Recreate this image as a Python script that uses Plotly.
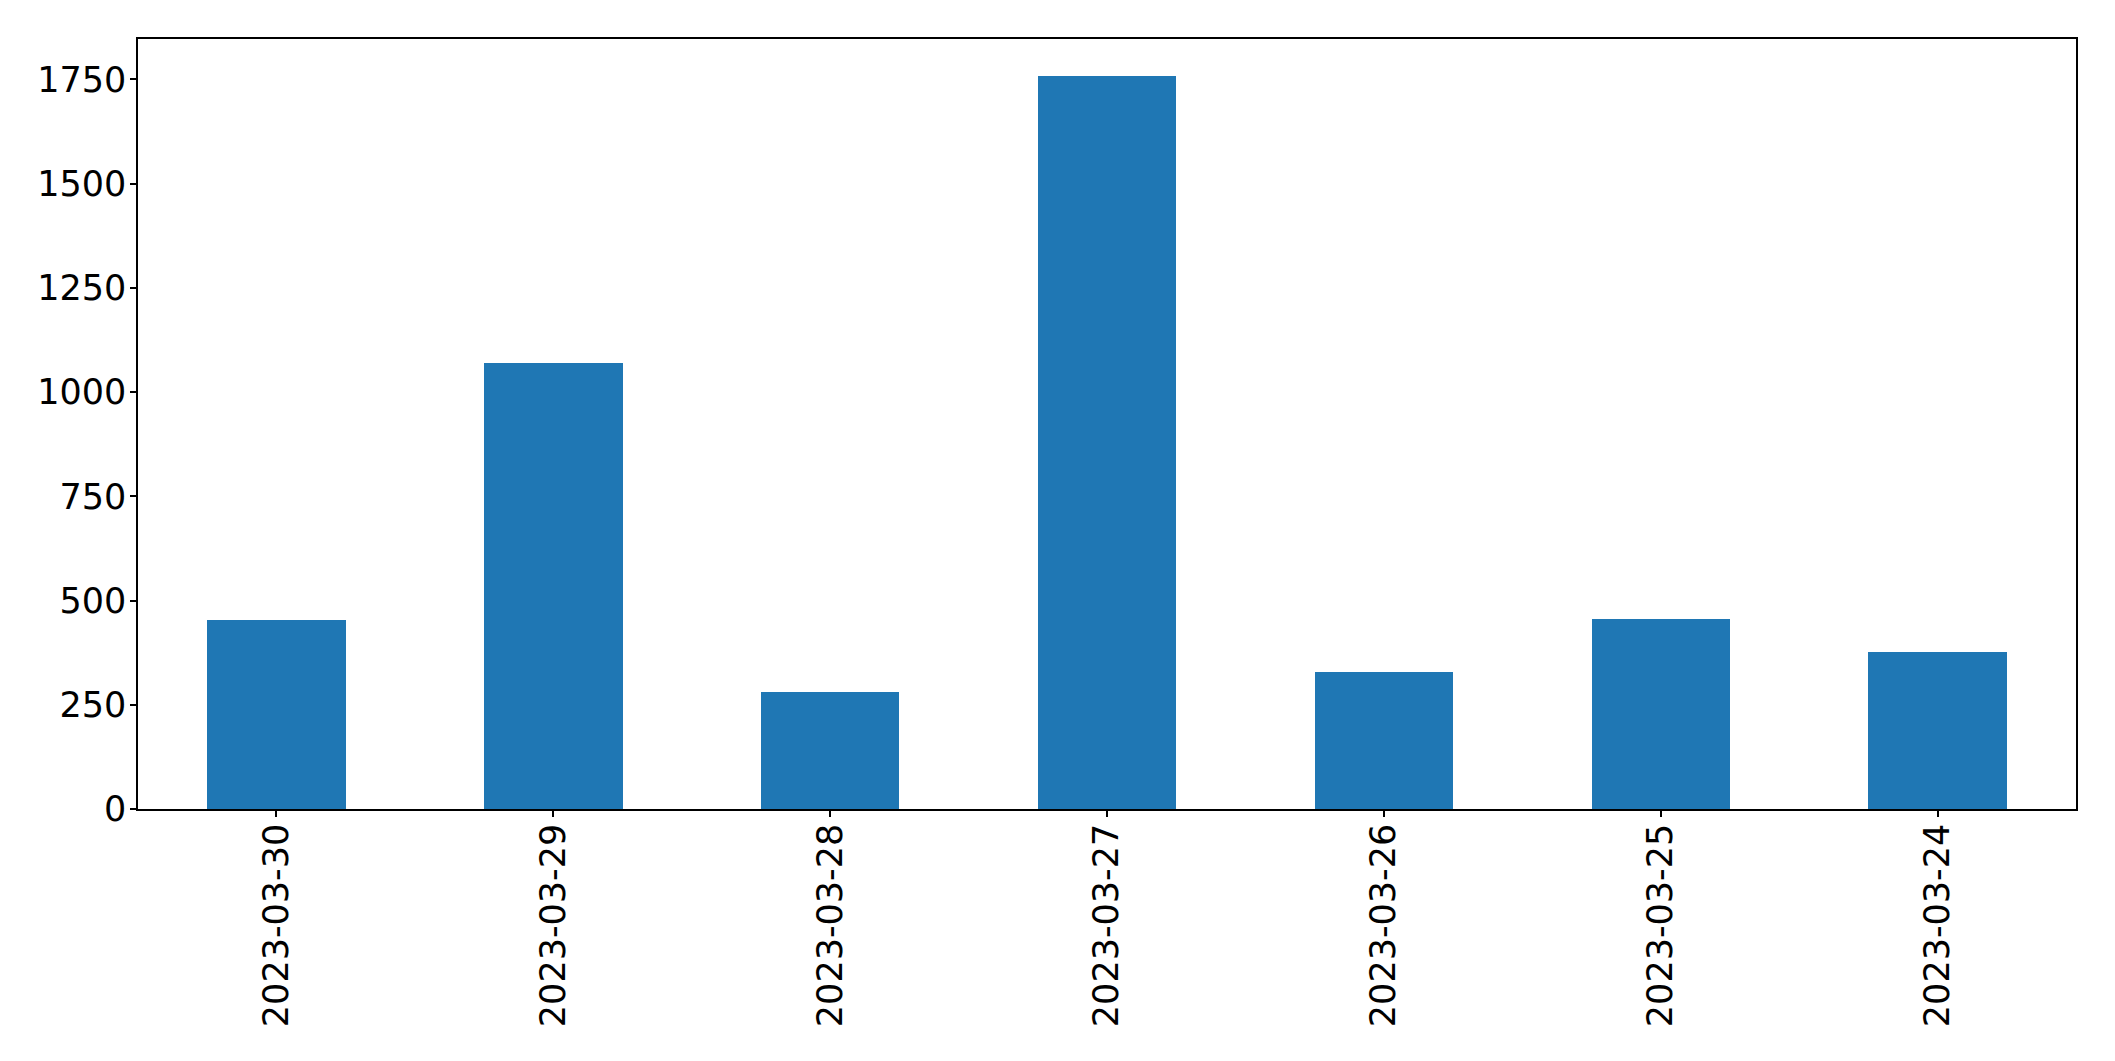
import plotly.graph_objects as go

dates = ["2023-03-30", "2023-03-29", "2023-03-28", "2023-03-27",
         "2023-03-26", "2023-03-25", "2023-03-24"]
counts = [453, 1069, 281, 1758, 328, 456, 376]
y_ticks = [0, 250, 500, 750, 1000, 1250, 1500, 1750]

fig = go.Figure()
fig.add_trace(go.Bar(x=list(range(len(dates))), y=counts, width=0.5,
                     marker=dict(color="#1f77b4", line=dict(width=0))))

font = dict(family="DejaVu Sans", size=35, color="black")
fig.update_layout(
    width=2115, height=1061,
    margin=dict(l=130, r=47, t=31, b=260, autoexpand=False),
    paper_bgcolor="white", plot_bgcolor="white",
    showlegend=False, bargap=0,
    font=font,
)
fig.update_xaxes(
    range=[-0.5, len(dates) - 0.5],
    tickmode="array", tickvals=list(range(len(dates))), ticktext=dates,
    tickangle=-90, ticks="outside", ticklen=6, tickwidth=1.5, tickcolor="black",
    showline=True, linecolor="black", linewidth=1.5, mirror=True,
    showgrid=False, zeroline=False, tickfont=font, ticklabelstandoff=-7,
)
fig.update_yaxes(
    range=[0, 1847],
    tickmode="array", tickvals=y_ticks, ticktext=[str(v) for v in y_ticks],
    ticks="outside", ticklen=6, tickwidth=1.5, tickcolor="black",
    showline=True, linecolor="black", linewidth=1.5, mirror=True,
    showgrid=False, zeroline=False, tickfont=font, ticklabelstandoff=-3,
)
fig.write_html("out.html")
